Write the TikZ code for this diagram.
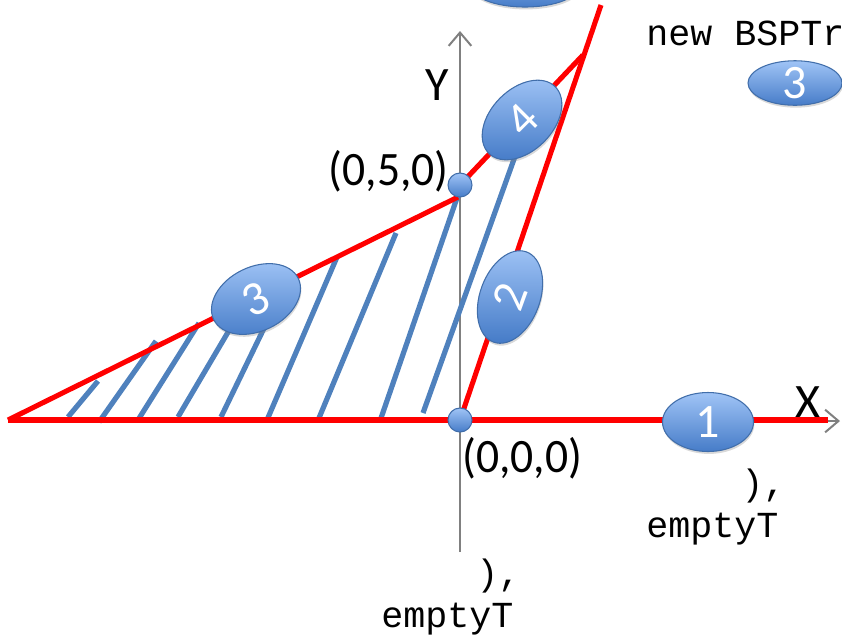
\documentclass[tikz,border=0pt]{standalone}
\usepackage{fontspec}
\newfontfamily\cf{Carlito}
\newfontfamily\mf{Liberation Mono}
\usetikzlibrary{shapes.geometric,arrows.meta,shadows}
\definecolor{bublight}{RGB}{160,196,246}
\definecolor{bubdark}{RGB}{70,124,200}
\definecolor{bubline}{RGB}{65,110,170}
\definecolor{hatch}{RGB}{79,129,189}
\definecolor{axisgray}{RGB}{128,128,128}
\tikzset{
 bub/.style={ellipse, draw=bubline, line width=0.8pt, top color=bublight, bottom color=bubdark, text=white, font=\cf\fontsize{36}{40}\selectfont, inner sep=0pt, drop shadow={shadow xshift=0.6pt, shadow yshift=-1.8pt, opacity=0.3}},
 dotnode/.style={circle, draw=bubline, line width=0.8pt, top color=bublight, bottom color=bubdark, minimum size=18pt, inner sep=0pt},
 redline/.style={draw=red, line width=3.8pt},
 hatchline/.style={draw=hatch, line width=3.9pt},
 axisline/.style={draw=axisgray, line width=1.5pt, -{Straight Barb[length=10pt,width=17pt]}},
 lab/.style={font=\cf\fontsize{36}{40}\selectfont, inner sep=0pt},
 code/.style={font=\mf\fontsize{27.5}{30}\selectfont, inner sep=0pt, anchor=base west},
}
\newcommand\narrowtxt[1]{\scalebox{0.95}[1]{#1}}
\begin{document}
\begin{tikzpicture}[x=0.75pt,y=-0.75pt]
\clip (0,0) rectangle (842,637);
\coordinate (L) at (8,420);
\coordinate (O) at (460,420);
\coordinate (P) at (460,185);
\coordinate (K) at (583,55);
\coordinate (T) at (601,5);
\coordinate (XE) at (840,421);
\coordinate (XS) at (65,421);
\coordinate (YS) at (460,552);
\coordinate (YE) at (460,31);
\coordinate (Q) at (458,197);
\coordinate (RE) at (828,420);
% axes
\draw[axisline] (XS) -- (XE);
\draw[axisline] (YS) -- (YE);
% hatching
\foreach \a/\b/\c/\d [count=\i] in {68/417/98/381, 99/422/156/341, 138/420/199/323, 178/417/234/322, 221/417/268/320, 267/420/337/257, 319/418/396/233, 380/421/458/195, 423/413/518/148} {
  \coordinate (h\i a) at (\a,\b);
  \coordinate (h\i b) at (\c,\d);
  \draw[hatchline] (h\i a) -- (h\i b);
}
% red boundary
\draw[redline] (L) -- (RE);
\draw[redline] (L) -- (Q);
\draw[redline] (P) -- (K);
\draw[redline] (O) -- (T);
% points
\node[dotnode] (d1) at (P) {};
\node[dotnode] (d0) at (O) {};
% bubbles
\node[bub, minimum width=68.25pt, minimum height=44.25pt] (e1) at (708,422) {1};
\node[bub, minimum width=72pt, minimum height=45pt, rotate=70] (e2) at (510,297) {2};
\node[bub, minimum width=70.5pt, minimum height=48pt, rotate=26] (e3) at (256,299) {3};
\node[bub, minimum width=70.5pt, minimum height=46.5pt, rotate=45] (e4) at (522,120) {4};
\node[bub, minimum width=82.5pt, minimum height=33pt] (e5) at (525,-15) {2};
\node[bub, minimum width=70.5pt, minimum height=30pt] (e6) at (795,83) {3};
% labels
\node[lab] (ylab) at (437,85) {Y};
\node[lab] (xlab) at (808,402) {X};
\node[lab, anchor=east] (p050) at (449,171) {\narrowtxt{(0,5,0)}};
\node[lab, anchor=west] (p000) at (462,458) {\narrowtxt{(0,0,0)}};
\node[code] (c1) at (646,45) {new BSPTr};
\node[code] (c2) at (741,495) {),};
\node[code] (c3) at (646,537) {emptyT};
\node[code] (c4) at (476,585) {),};
\node[code] (c5) at (381,627) {emptyT};
\end{tikzpicture}
\end{document}
